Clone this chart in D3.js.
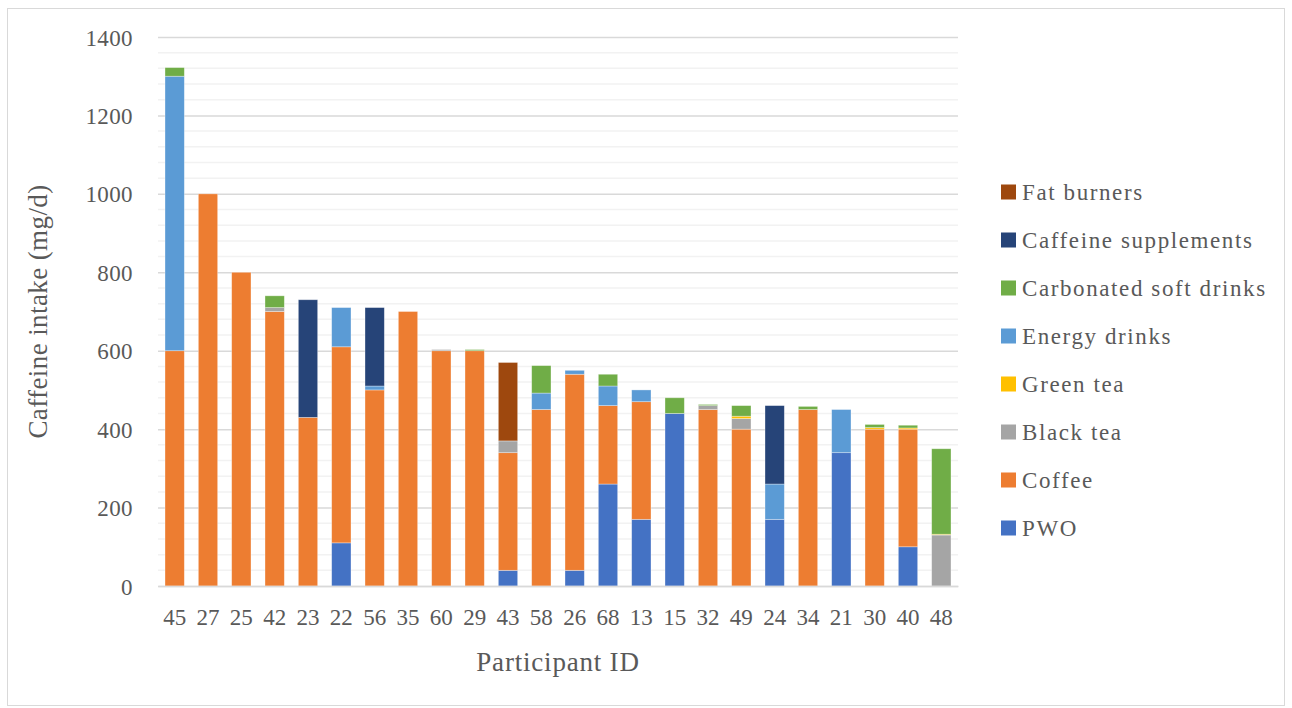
<!DOCTYPE html>
<html><head><meta charset="utf-8">
<script src="https://cdn.jsdelivr.net/npm/d3@7"></script>
<style>body{margin:0;background:#fff}svg{display:block}text{font-family:"Liberation Serif","DejaVu Serif",serif;fill:#595959}</style>
</head><body><svg id="c" width="1292" height="708"></svg>
<script>
const participants = ["45","27","25","42","23","22","56","35","60","29","43","58","26","68","13","15","32","49","24","34","21","30","40","48"];
const seriesNames = ["PWO","Coffee","Black tea","Green tea","Energy drinks","Carbonated soft drinks","Caffeine supplements","Fat burners"];
const seriesColors = ["#4472C4","#ED7D31","#A5A5A5","#FFC000","#5B9BD5","#70AD47","#264478","#9E480E"];
const pwo         = [0,0,0,0,0,110,0,0,0,0,40,0,40,260,170,440,0,0,170,0,340,0,100,0];
const coffee      = [600,1000,800,700,430,500,500,700,600,600,300,450,500,200,300,0,450,400,0,450,0,400,300,0];
const blackTea    = [0,0,0,10,0,0,0,0,3,0,30,0,0,0,0,0,10,27,0,0,0,0,0,130];
const greenTea    = [0,0,0,0,0,0,0,0,0,0,0,0,0,0,0,0,0,6,0,0,0,4,3,2];
const energy      = [700,0,0,0,0,100,10,0,0,0,0,42,10,50,30,0,0,0,90,0,110,0,0,0];
const softDrinks  = [22,0,0,30,0,0,0,0,0,3,0,70,0,30,0,40,3,27,0,8,0,8,7,218];
const supplements = [0,0,0,0,300,0,200,0,0,0,0,0,0,0,0,0,0,0,200,0,0,0,0,0];
const fatBurners  = [0,0,0,0,0,0,0,0,0,0,200,0,0,0,0,0,0,0,0,0,0,0,0,0];
const yTicks = [0,200,400,600,800,1000,1200,1400];

const seriesValues = [pwo,coffee,blackTea,greenTea,energy,softDrinks,supplements,fatBurners];
const rows = participants.map((p,i)=>{const r={id:p};seriesNames.forEach((s,k)=>r[s]=seriesValues[k][i]);return r;});
const stack = d3.stack().keys(seriesNames)(rows);

const svg = d3.select("#c");
const L=158,R=958,T=37,B=586;
const x = d3.scaleBand().domain(participants).range([L,R]).paddingInner(0.42).paddingOuter(0.21);
const y = d3.scaleLinear().domain([0,1400]).range([B,T]);

svg.append("rect").attr("x",7.5).attr("y",8.5).attr("width",1277).attr("height",697).attr("fill","none").attr("stroke","#d9d9d9");

// minor gridlines
const minor = d3.range(0,1401,40).filter(v=>v%200!==0);
svg.append("g").selectAll("line").data(minor).join("line")
  .attr("x1",L).attr("x2",R).attr("y1",d=>y(d)).attr("y2",d=>y(d))
  .attr("stroke","#f2f2f2").attr("stroke-width",1.5);
// major gridlines via axis
const yAxis = svg.append("g").attr("transform",`translate(${L},0)`)
  .call(d3.axisLeft(y).tickValues(yTicks).tickSize(-(R-L)).tickPadding(25).tickFormat(d3.format("d")));
yAxis.select(".domain").remove();
yAxis.selectAll(".tick line").attr("stroke","#d9d9d9").attr("stroke-width",1.5);
yAxis.selectAll(".tick text").style("font-size","23px").style("letter-spacing","0.4px").attr("fill","#595959").attr("dy","0.35em");

// bars
svg.append("g").selectAll("g").data(stack).join("g")
  .attr("fill",(d,i)=>seriesColors[i])
  .selectAll("rect").data(d=>d.filter(s=>s[1]-s[0]>0)).join("rect")
  .attr("x",d=>x(d.data.id)).attr("width",x.bandwidth())
  .attr("y",d=>y(d[1])).attr("height",d=>y(d[0])-y(d[1]))
  .attr("stroke","#ffffff").attr("stroke-opacity",0.45).attr("stroke-width",0.75);

// x axis
const xAxis = svg.append("g").attr("transform",`translate(0,${B})`)
  .call(d3.axisBottom(x).tickSize(0).tickPadding(23));
xAxis.select(".domain").attr("stroke","#d9d9d9").attr("stroke-width",1.5);
xAxis.selectAll(".tick text").style("font-size","23px").attr("fill","#595959");

// axis titles
svg.append("text").attr("x",(L+R)/2).attr("y",671).attr("text-anchor","middle")
  .style("font-size","27px").style("letter-spacing","0.8px").text("Participant ID");
svg.append("text").attr("transform",`translate(47,${(T+B)/2}) rotate(-90)`).attr("text-anchor","middle")
  .style("font-size","27px").style("letter-spacing","0.4px").text("Caffeine intake (mg/d)");

// legend
const legendOrder = seriesNames.map((s,i)=>({s,c:seriesColors[i]})).reverse();
const lg = svg.append("g").selectAll("g").data(legendOrder).join("g")
  .attr("transform",(d,i)=>`translate(1001,${192+i*48})`);
lg.append("rect").attr("x",0).attr("y",-7.5).attr("width",15).attr("height",15).attr("fill",d=>d.c);
lg.append("text").attr("x",21).attr("dy","0.35em").style("font-size","23px").style("letter-spacing","1.6px").text(d=>d.s);
</script></body></html>
